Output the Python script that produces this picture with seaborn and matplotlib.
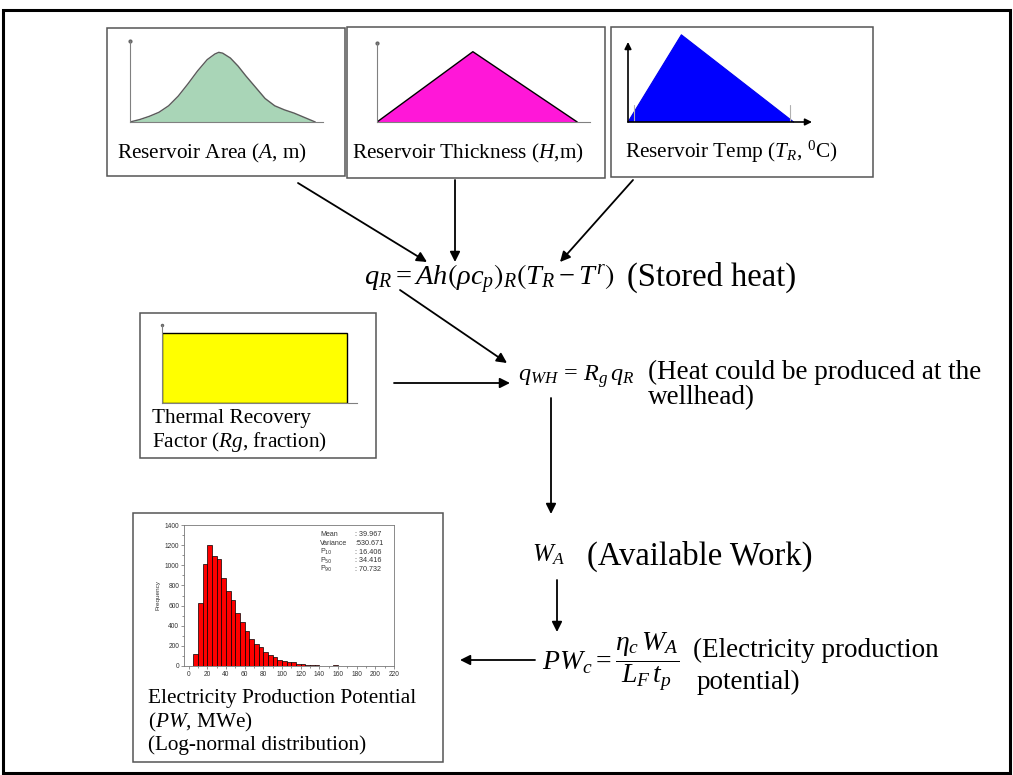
import matplotlib
matplotlib.use("Agg")
import matplotlib.pyplot as plt
import seaborn as sns
from matplotlib.patches import Rectangle

# ---- input distributions (relative shapes on a 0..100 or 0..10 range) ----
area_x = [0, 0.5, 1.0, 1.5, 2.0, 2.5, 3.0, 3.5, 4.0, 4.4, 4.6, 4.8, 5.2, 5.6,
          6.0, 6.5, 7.0, 7.5, 8.0, 8.5, 9.0, 9.6]
area_y = [0, 0.03, 0.07, 0.12, 0.20, 0.32, 0.47, 0.63, 0.77, 0.84, 0.86, 0.85,
          0.79, 0.69, 0.57, 0.43, 0.29, 0.20, 0.15, 0.11, 0.06, 0.0]

thick_x = [0, 45, 94]
thick_y = [0, 0.89, 0]

temp_x = [0, 29, 90]
temp_y = [0, 1.09, 0]

rg_x = [0, 0, 95, 95]
rg_y = [0, 0.9, 0.9, 0]

# ---- Monte Carlo result: electricity production potential (MWe) ----
pw_bin_width = 5
pw_bin_left = list(range(5, 165, 5))
pw_counts = [122, 628, 1012, 1200, 1090, 1058, 875, 745, 660, 522, 437, 350,
             265, 215, 186, 140, 107, 90, 64, 50, 38, 42, 20, 18, 9, 8, 6, 3,
             2, 3, 6, 2]
pw_xticks = list(range(0, 221, 20))
pw_yticks = list(range(0, 1401, 200))

stat_names = ["Mean", "Variance", r"P$_{10}$", r"P$_{50}$", r"P$_{90}$"]
stat_values = [": 39.967", ":530.671", ": 16.406", ": 34.416", ": 70.732"]

# ---- styling ----
sns.set_style("white")
SERIF = ["Liberation Serif", "DejaVu Serif"]
SANS = ["Liberation Sans", "DejaVu Sans"]
plt.rcParams["font.family"] = SERIF
plt.rcParams["text.color"] = "black"
plt.rcParams["axes.labelcolor"] = "black"
plt.rcParams["mathtext.fontset"] = "custom"
plt.rcParams["mathtext.rm"] = "Liberation Serif"
plt.rcParams["mathtext.it"] = "Liberation Serif:italic"
plt.rcParams["mathtext.bf"] = "Liberation Serif:bold"
plt.rcParams["mathtext.fallback"] = "stix"

W, H = 1013, 775
fig = plt.figure(figsize=(W / 100, H / 100), dpi=100)
fig.patch.set_facecolor("white")
canvas = fig.add_axes([0, 0, 1, 1])
canvas.set_xlim(0, W)
canvas.set_ylim(H, 0)
canvas.axis("off")


def px_axes(x0, y0, x1, y1):
    a = fig.add_axes([x0 / W, 1 - y1 / H, (x1 - x0) / W, (y1 - y0) / H])
    a.set_facecolor("none")
    return a


def mini_style(a, show_spines=True):
    a.set_xlim(0, 100)
    a.set_ylim(0, 1)
    for s in ["top", "right"]:
        a.spines[s].set_visible(False)
    for s in ["left", "bottom"]:
        a.spines[s].set_visible(show_spines)
        a.spines[s].set_color("#808080")
        a.spines[s].set_linewidth(0.8)
    a.set_xticks([])
    a.set_yticks([])
    a.set_xlabel("")
    a.set_ylabel("")


def box(x0, y0, x1, y1):
    canvas.add_patch(Rectangle((x0, y0), x1 - x0, y1 - y0, fill=False,
                               ec="#555555", lw=1.1))


def arrow(x0, y0, x1, y1):
    canvas.annotate("", xy=(x1, y1), xytext=(x0, y0),
                    arrowprops=dict(arrowstyle="-|>", color="black", lw=1.3,
                                    mutation_scale=15, shrinkA=0, shrinkB=0))


# outer frame
canvas.add_patch(Rectangle((3, 10), 1007, 763, fill=False, ec="black", lw=2.2))

# input boxes
box(107, 28, 345, 176)
box(347, 27, 605, 178)
box(611, 27, 873, 177)
box(140, 313, 376, 458)
box(133, 513, 443, 762)

LBL = 15.3
canvas.text(117, 158, r"Reservoir Area ($\mathit{A}$, m)", fontsize=LBL, va="baseline")
canvas.text(352, 158, r"Reservoir Thickness ($\mathit{H}$,m)", fontsize=LBL, va="baseline")
canvas.text(625, 158, r"Reservoir Temp ($\mathit{T_R}$, $^{0}$C)", fontsize=LBL, va="baseline")
canvas.text(152, 423, "Thermal Recovery", fontsize=LBL, va="baseline")
canvas.text(152, 447, r"Factor ($\mathit{Rg}$, fraction)", fontsize=LBL, va="baseline")
canvas.text(148, 703, "Electricity Production Potential", fontsize=LBL, va="baseline")
canvas.text(148, 727, r"($\mathit{PW}$, MWe)", fontsize=LBL, va="baseline")
canvas.text(148, 750, "(Log-normal distribution)", fontsize=LBL, va="baseline")

# reservoir area: bell-shaped
a_area = px_axes(130, 41, 323, 122)
a_area.fill_between(area_x, area_y, color="#a9d5b7", lw=0)
sns.lineplot(x=area_x, y=area_y, ax=a_area, color="#5a5a5a", lw=1.0, sort=False)
mini_style(a_area)
a_area.set_xlim(0, 10)
a_area.plot([0], [1], marker="o", ms=2, color="#666666", clip_on=False)

# reservoir thickness: triangular
a_th = px_axes(377, 43, 590, 122)
a_th.fill(thick_x, thick_y, color="#ff17d8", lw=0)
sns.lineplot(x=thick_x, y=thick_y, ax=a_th, color="black", lw=1.0, sort=False)
mini_style(a_th)
a_th.plot([0], [1], marker="o", ms=2, color="#666666", clip_on=False)

# reservoir temperature: triangular, skewed
a_tp = px_axes(628, 42, 812, 122)
a_tp.fill(temp_x, temp_y, color="#0000ff", lw=0, clip_on=False)
sns.lineplot(x=temp_x, y=temp_y, ax=a_tp, color="#0000ee", lw=0.8, sort=False)
a_tp.lines[-1].set_clip_on(False)
mini_style(a_tp, show_spines=False)
for xt in (3.3, 88):
    a_tp.plot([xt, xt], [0, 0.21], color="#b0b0b0", lw=0.8)
for end in ((100, 0), (0, 1)):
    a_tp.annotate("", xy=end, xytext=(0, 0),
                  arrowprops=dict(arrowstyle="-|>", color="black", lw=1.2,
                                  mutation_scale=10, shrinkA=0, shrinkB=0))

# thermal recovery factor: uniform
a_rg = px_axes(162, 325, 357, 403)
a_rg.fill(rg_x, rg_y, color="#ffff00", ec="black", lw=1.0)
mini_style(a_rg)
a_rg.plot([0], [1], marker="o", ms=1.5, color="#666666", clip_on=False)

# electricity production potential histogram
a_h = px_axes(184, 525, 394, 666)
a_h.set_facecolor("white")
centers = [b + pw_bin_width / 2 for b in pw_bin_left]
edges = pw_bin_left + [pw_bin_left[-1] + pw_bin_width]
sns.histplot(x=centers, weights=pw_counts, bins=edges, ax=a_h,
             color="#ff0000", edgecolor="black", linewidth=0.5, alpha=1)
a_h.set_xlim(-5, 220)
a_h.set_ylim(0, 1400)
a_h.set_xticks(pw_xticks)
a_h.set_xticks(list(range(0, 221, 10)), minor=True)
a_h.set_yticks(pw_yticks)
a_h.set_yticks(list(range(0, 1401, 100)), minor=True)
a_h.tick_params(which="both", direction="out", length=2, width=0.5,
                color="#666666", labelsize=4.8, labelcolor="#333333", pad=1.5,
                bottom=True, left=True)
a_h.tick_params(which="minor", length=1.3)
for lab in a_h.get_xticklabels() + a_h.get_yticklabels():
    lab.set_fontfamily(SANS)
for s in a_h.spines.values():
    s.set_color("#777777")
    s.set_linewidth(0.6)
a_h.set_xlabel("")
a_h.set_ylabel("Frequency", fontsize=4.6, family=SANS, labelpad=3, color="#333333")

# summary statistics, drawn on a transparent overlay above the histogram
stats_ax = px_axes(0, 0, W, H)
stats_ax.set_xlim(0, W)
stats_ax.set_ylim(H, 0)
stats_ax.axis("off")
for i, (nm, val) in enumerate(zip(stat_names, stat_values)):
    y = 535 + i * 8.6
    stats_ax.text(320, y, nm, fontsize=5.0, va="center", color="#333333",
                  family=SANS, math_fontfamily="dejavusans")
    stats_ax.text(355, y, val, fontsize=5.2, va="center", color="#333333",
                  family=SANS)

# equations and flow
canvas.text(364, 285,
            r"$q_R = Ah\left(\rho c_p\right)_R\left(T_R - T^r\right)$",
            fontsize=20.5, va="baseline")
canvas.text(627, 286, "(Stored heat)", fontsize=23.5, va="baseline")
canvas.text(518, 381, r"$q_{WH}\,=\,R_g\, q_R$", fontsize=17.5, va="baseline")
canvas.text(648, 379, "(Heat could be produced at the", fontsize=19.5, va="baseline")
canvas.text(648, 404, "wellhead)", fontsize=19.5, va="baseline")
canvas.text(532, 561, r"$W_A$", fontsize=18, va="baseline")
canvas.text(587, 565, "(Available Work)", fontsize=23.5, va="baseline")
canvas.text(542, 662, r"$PW_c = \dfrac{\eta_c\, W_A}{L_F\, t_p}$", fontsize=20,
            va="center")
canvas.text(693, 657, "(Electricity production", fontsize=19.5, va="baseline")
canvas.text(697, 689, "potential)", fontsize=19.5, va="baseline")

arrow(298, 183, 427, 262)
arrow(455, 180, 455, 262)
arrow(633, 180, 560, 262)
arrow(400, 290, 507, 363)
arrow(394, 383, 510, 383)
arrow(551, 398, 551, 514)
arrow(557, 580, 557, 632)
arrow(535, 660, 460, 660)

fig.savefig("out.png", dpi=100, facecolor="white")
